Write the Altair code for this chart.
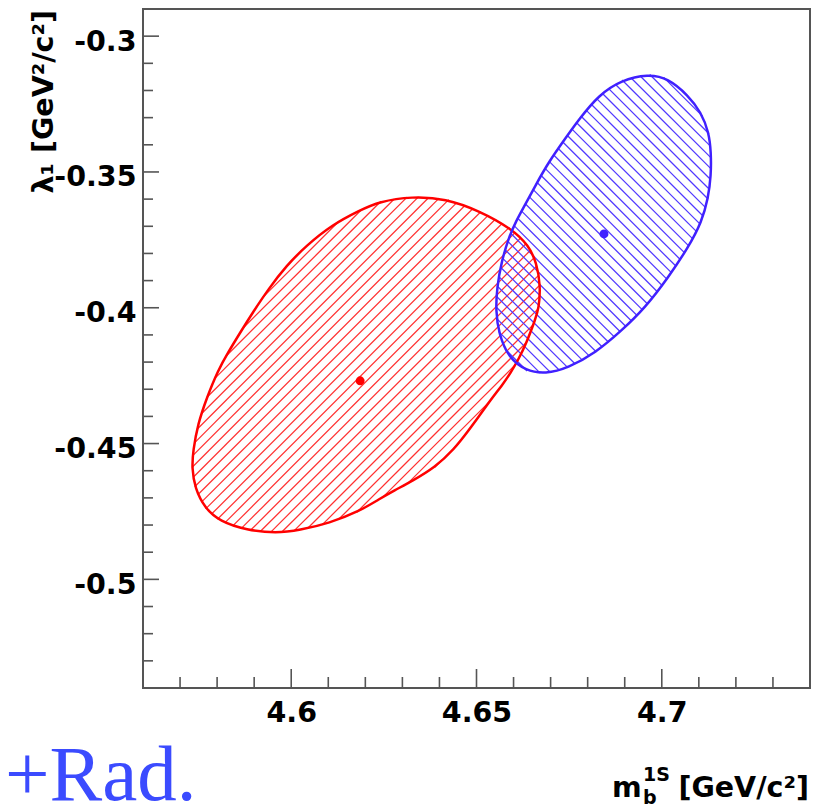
import altair as alt
import numpy as np
import pandas as pd

# ---------------- data ----------------
red_x = [4.6326, 4.6417, 4.6506, 4.6595, 4.6641, 4.6662, 4.6673, 4.6668, 4.6659, 4.6635,
         4.6614, 4.6592, 4.6570, 4.6538, 4.6484, 4.6438, 4.6388, 4.6326, 4.6278, 4.6237,
         4.6184, 4.6103, 4.6022, 4.5960, 4.5880, 4.5807, 4.5767, 4.5740, 4.5732, 4.5735,
         4.5748, 4.5772, 4.5802, 4.5829, 4.5862, 4.5896, 4.5939, 4.5987, 4.6041, 4.6111,
         4.6184, 4.6237]
red_y = [-0.3590, -0.3598, -0.3642, -0.3709, -0.3771, -0.3834, -0.3919, -0.4004, -0.4041, -0.4129,
         -0.4188, -0.4240, -0.4284, -0.4339, -0.4443, -0.4524, -0.4587, -0.4638, -0.4673, -0.4705,
         -0.4749, -0.4793, -0.4819, -0.4830, -0.4819, -0.4786, -0.4738, -0.4664, -0.4590, -0.4528,
         -0.4428, -0.4332, -0.4232, -0.4166, -0.4092, -0.4018, -0.3930, -0.3845, -0.3771, -0.3694,
         -0.3642, -0.3609]

blue_x = [4.6963, 4.7017, 4.7071, 4.7106, 4.7127, 4.7133, 4.7133, 4.7125, 4.7108, 4.7071,
          4.7017, 4.6955, 4.6891, 4.6821, 4.6748, 4.6686, 4.6633, 4.6587, 4.6560, 4.6552,
          4.6555, 4.6568, 4.6587, 4.6606, 4.6630, 4.6659, 4.6694, 4.6740, 4.6778, 4.6829,
          4.6891]
blue_y = [-0.3140, -0.3155, -0.3218, -0.3280, -0.3354, -0.3428, -0.3513, -0.3598, -0.3683, -0.3779,
          -0.3889, -0.4000, -0.4085, -0.4166, -0.4221, -0.4244, -0.4232, -0.4185, -0.4096, -0.4011,
          -0.3926, -0.3827, -0.3742, -0.3683, -0.3624, -0.3550, -0.3465, -0.3376, -0.3304, -0.3218,
          -0.3162]

center_names = ["red", "blue"]
center_x = [4.6186, 4.6844]
center_y = [-0.4269, -0.3728]

x_major = [4.6, 4.65, 4.7]
x_minor = [4.57, 4.58, 4.59, 4.61, 4.62, 4.63, 4.64, 4.66, 4.67, 4.68, 4.69, 4.71, 4.72, 4.73]
y_major = [-0.3, -0.35, -0.4, -0.45, -0.5]
y_minor = [-0.31, -0.32, -0.33, -0.34, -0.36, -0.37, -0.38, -0.39, -0.41, -0.42, -0.43, -0.44,
           -0.46, -0.47, -0.48, -0.49, -0.51, -0.52, -0.53]

y_title = "λ₁ [GeV²/c²]"
x_title_main = "m"
x_title_sub = "b"
x_title_sup = "1S"
x_title_unit = "[GeV/c²]"
tag_text = "+Rad."

# ---------------- layout / style ----------------
X_DOMAIN = [4.56, 4.74]
Y_DOMAIN = [-0.54, -0.29]
PLOT_W, PLOT_H = 667, 679
PAD_L, PAD_T = 143, 9
RED = "#ff0000"
BLUE = "#4020ff"
FRAME = "#555555"
FONT = "DejaVu Sans"
HATCH_SPACING = 7.8  # px between hatch lines (a fill style)

xs = alt.Scale(domain=X_DOMAIN, nice=False, zero=False)
ys = alt.Scale(domain=Y_DOMAIN, nice=False, zero=False)

X_AXIS = alt.Axis(values=x_major, labelExpr="'' + datum.value", ticks=False, tickSize=0,
                  domain=False, grid=False, title=None, labelFont=FONT, labelFontWeight="bold",
                  labelFontSize=28.5, labelColor="black", labelPadding=10, labelFlush=False)
Y_AXIS = alt.Axis(values=y_major, labelExpr="'' + datum.value", ticks=False, tickSize=0,
                  domain=False, grid=False, title=None, labelFont=FONT, labelFontWeight="bold",
                  labelFontSize=28.5, labelColor="black", labelPadding=7, labelOffset=5,
                  labelFlush=False)


def X(field):
    return alt.X(field, scale=xs, axis=X_AXIS, title=None)


def Y(field):
    return alt.Y(field, scale=ys, axis=Y_AXIS, title=None)


def hatch_segments(xv, yv, direction):
    """Hatch style: 45-degree screen lines clipped to the closed contour."""
    sxp = PLOT_W / (X_DOMAIN[1] - X_DOMAIN[0])
    syp = PLOT_H / (Y_DOMAIN[1] - Y_DOMAIN[0])
    P = np.column_stack([(np.array(xv) - X_DOMAIN[0]) * sxp, (Y_DOMAIN[1] - np.array(yv)) * syp])
    s = 1.0 if direction == "/" else -1.0
    f = P[:, 0] + s * P[:, 1]
    step = HATCH_SPACING * np.sqrt(2)
    rows = []
    Q = np.roll(P, -1, axis=0)
    fq = np.roll(f, -1)
    for c in np.arange(np.ceil(f.min() / step) * step, f.max(), step):
        a, b = f - c, fq - c
        hit = (a * b) < 0
        t = a[hit] / (a[hit] - b[hit])
        pts = P[hit] + t[:, None] * (Q[hit] - P[hit])
        pts = pts[np.argsort(pts[:, 0])]
        for j in range(0, len(pts) - 1, 2):
            (X1, Y1), (X2, Y2) = pts[j], pts[j + 1]
            rows.append({"x": X_DOMAIN[0] + X1 / sxp, "y": Y_DOMAIN[1] - Y1 / syp,
                         "x2": X_DOMAIN[0] + X2 / sxp, "y2": Y_DOMAIN[1] - Y2 / syp})
    return pd.DataFrame(rows)


def contour_layers(xv, yv, color, hatch_color, direction):
    df = pd.DataFrame({"x": xv, "y": yv, "i": range(len(xv))})
    hatch = alt.Chart(hatch_segments(xv, yv, direction)).mark_rule(
        color=hatch_color, strokeWidth=1.25
    ).encode(x=X("x:Q"), y=Y("y:Q"), x2="x2:Q", y2="y2:Q")
    outline = alt.Chart(df).mark_line(
        stroke=color, strokeWidth=2.5, interpolate="basis-closed"
    ).encode(x=X("x:Q"), y=Y("y:Q"), order=alt.Order("i:Q"))
    return hatch, outline


red_hatch, red_outline = contour_layers(red_x, red_y, RED, "#ff3030", "/")
blue_hatch, blue_outline = contour_layers(blue_x, blue_y, BLUE, "#5038ff", "\\")

centers = pd.DataFrame({"name": center_names, "x": center_x, "y": center_y})
dots = alt.Chart(centers).mark_circle(size=80, opacity=1).encode(
    x=X("x:Q"), y=Y("y:Q"),
    color=alt.Color("name:N", scale=alt.Scale(domain=center_names, range=[RED, BLUE]), legend=None),
)


def xticks(vals, length):
    return alt.Chart(pd.DataFrame({"v": vals})).mark_rule(color=FRAME, strokeWidth=1.6).encode(
        x=X("v:Q"), y=alt.value(PLOT_H), y2=alt.value(PLOT_H - length))


def yticks(vals, length):
    return alt.Chart(pd.DataFrame({"v": vals})).mark_rule(color=FRAME, strokeWidth=1.6).encode(
        y=Y("v:Q"), x=alt.value(0), x2=alt.value(length))


def label(text, px, py, size, **kw):
    return alt.Chart(pd.DataFrame({"t": [text]})).mark_text(fontSize=size, **kw).encode(
        text="t:N", x=alt.value(px - PAD_L), y=alt.value(py - PAD_T))


ytitle = label(y_title, 53, 10, 28.5, font=FONT, fontWeight="bold", angle=270, align="right",
               baseline="alphabetic", color="black")
xt_main = label(x_title_main, 612, 797, 28.5, font=FONT, fontWeight="bold", align="left",
                baseline="alphabetic", color="black")
xt_sub = label(x_title_sub, 643, 804, 19, font=FONT, fontWeight="bold", align="left",
               baseline="alphabetic", color="black")
xt_sup = label(x_title_sup, 643, 781, 19, font=FONT, fontWeight="bold", align="left",
               baseline="alphabetic", color="black")
xt_unit = label(x_title_unit, 809, 797, 28.5, font=FONT, fontWeight="bold", align="right",
                baseline="alphabetic", color="black")
tag = label(tag_text, 5, 800, 79, font="Liberation Serif", align="left", baseline="alphabetic",
            color="#3b4bff")

chart = alt.layer(
    red_hatch, blue_hatch, red_outline, blue_outline, dots,
    xticks(x_major, 19), xticks(x_minor, 11), yticks(y_major, 16), yticks(y_minor, 10),
    ytitle, xt_main, xt_sub, xt_sup, xt_unit, tag,
).properties(
    width=PLOT_W, height=PLOT_H,
    autosize=alt.AutoSizeParams(type="none"),
    padding={"left": PAD_L, "top": PAD_T, "right": 821 - PAD_L - PLOT_W, "bottom": 810 - PAD_T - PLOT_H},
).configure_view(stroke=FRAME, strokeWidth=2)

chart.save("out.html", embed_options={"renderer": "svg", "actions": False})
